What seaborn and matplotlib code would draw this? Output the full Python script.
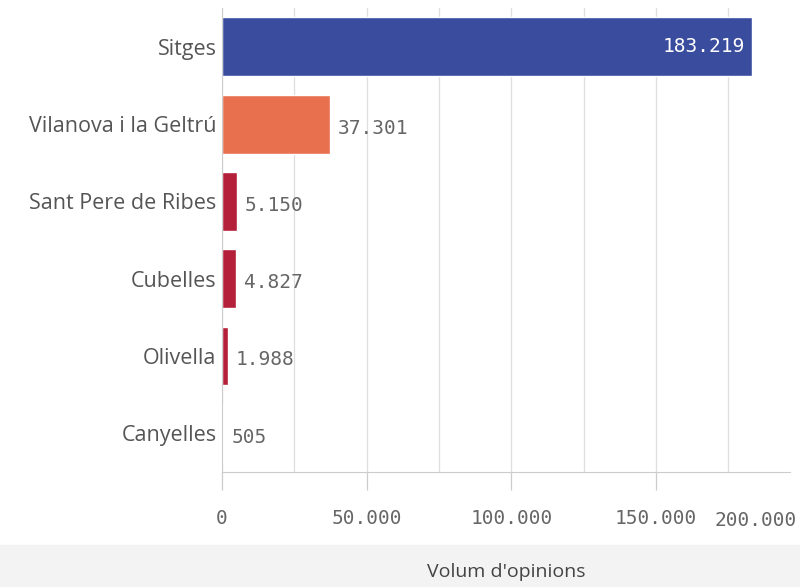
import numpy as np
import pandas as pd
import matplotlib.pyplot as plt
import seaborn as sns
from matplotlib.ticker import MultipleLocator

municipis = ["Sitges", "Vilanova i la Geltrú", "Sant Pere de Ribes",
             "Cubelles", "Olivella", "Canyelles"]
opinions = [183219, 37301, 5150, 4827, 1988, 505]
colors = ["#3a4c9e", "#e8704e", "#b4203a", "#b4203a", "#b4203a", "#c0506a"]
xticks = [0, 50000, 100000, 150000]
xtick_labels = ["0", "50.000", "100.000", "150.000"]
last_tick_label = "200.000"

df = pd.DataFrame({"Municipi": municipis, "Opinions": opinions})

sns.set_style("white")
plt.rcParams["font.family"] = ["Open Sans", "DejaVu Sans"]
mono = "DejaVu Sans Mono"

fig = plt.figure(figsize=(8, 5.87), dpi=100)
# light band at the bottom like the screenshot
fig.patches.append(plt.Rectangle((0, 0), 1, 0.072, transform=fig.transFigure,
                                 color="#f3f3f3", zorder=-5))
ax = fig.add_axes([0.2775, 0.196, 0.71, 0.79])

sns.barplot(data=df, y="Municipi", x="Opinions", hue="Municipi",
            palette=colors, legend=False, width=0.76, saturation=1, ax=ax)

ax.set_xlim(0, 196350)
ax.set_xticks(xticks)
ax.set_xticklabels(xtick_labels, family=mono, color="#666666", fontsize=14)
ax.xaxis.set_minor_locator(MultipleLocator(25000))
ax.grid(axis="x", which="both", color="#dedede", linewidth=0.9)
ax.set_axisbelow(True)
ax.tick_params(axis="x", bottom=True, length=13, width=0.9, color="#cccccc", pad=14)
ax.tick_params(axis="x", which="minor", length=0)
ax.tick_params(axis="y", length=0, labelsize=15.5, labelcolor="#555555", pad=4)
ax.text(1.012, -0.084, last_tick_label, transform=ax.transAxes, ha="right",
        va="top", family=mono, color="#666666", fontsize=14)

for s in ["top", "right"]:
    ax.spines[s].set_visible(False)
ax.spines["left"].set_color("#cccccc")
ax.spines["bottom"].set_color("#cccccc")

ax.set_ylabel("")
ax.set_xlabel("Volum d'opinions", fontsize=14, color="#444444", labelpad=25)

for i, v in enumerate(opinions):
    txt = f"{v:,}".replace(",", ".")
    if i == 0:
        ax.text(v - 2500, i, txt, va="center", ha="right", color="white",
                family=mono, fontsize=14)
    else:
        ax.text(v + 2800, i + 0.05, txt, va="center", ha="left", color="#666666",
                family=mono, fontsize=14)

fig.savefig("out.png", dpi=100)
